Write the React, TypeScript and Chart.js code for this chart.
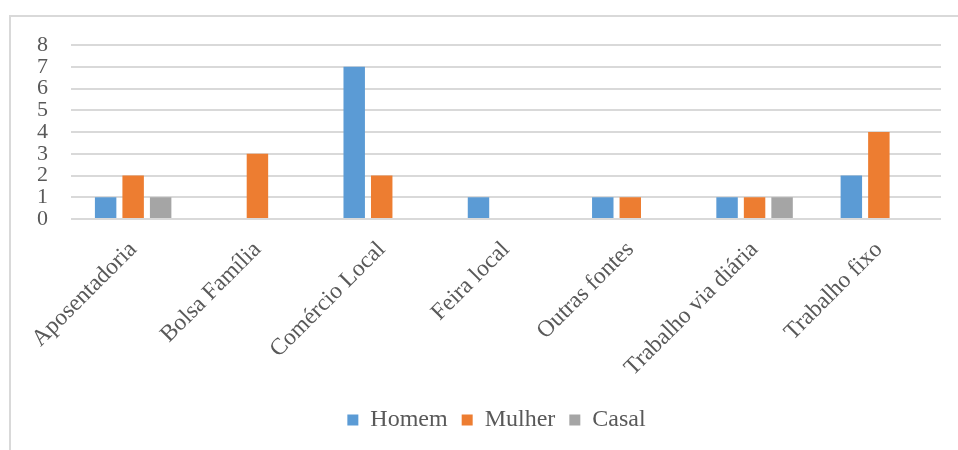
import React, { useEffect, useRef } from "react";
import { Chart, registerables } from "chart.js";

Chart.register(...registerables);

const categories = [
  "Aposentadoria",
  "Bolsa Família",
  "Comércio Local",
  "Feira local",
  "Outras fontes",
  "Trabalho via diária",
  "Trabalho fixo",
];
const homem = [1, 0, 7, 1, 1, 1, 2];
const mulher = [2, 3, 2, 0, 1, 1, 4];
const casal = [1, 0, 0, 0, 0, 1, 0];
const yTicks = [0, 1, 2, 3, 4, 5, 6, 7, 8];

const FONT = "'Liberation Serif', 'Times New Roman', serif";
const TEXT = "#595959";

const legendShift = {
  id: "legendShift",
  afterLayout(chart: any) {
    if (chart.legend) {
      chart.legend.left += 26;
      chart.legend.right += 26;
    }
  },
};

export default function App() {
  const ref = useRef<HTMLCanvasElement | null>(null);
  useEffect(() => {
    if (!ref.current) return;
    const chart = new Chart(ref.current, {
      type: "bar",
      data: {
        labels: categories,
        datasets: [
          { label: "Homem", data: homem, backgroundColor: "#5B9BD5" },
          { label: "Mulher", data: mulher, backgroundColor: "#ED7D31" },
          { label: "Casal", data: casal, backgroundColor: "#A5A5A5" },
        ],
      },
      plugins: [legendShift],
      options: {
        animation: false,
        responsive: false,
        maintainAspectRatio: false,
        datasets: {
          bar: { categoryPercentage: 0.664, barPercentage: 0.78, borderWidth: 0 },
        },
        layout: { padding: { left: 0, right: 17, top: 45, bottom: 8 } },
        plugins: {
          tooltip: { enabled: false },
          legend: {
            position: "bottom",
            labels: {
              boxWidth: 11,
              boxHeight: 11,
              padding: 14,
              color: TEXT,
              font: { family: FONT, size: 24 },
            },
          },
        },
        scales: {
          x: {
            grid: { display: false, drawTicks: false },
            border: { display: false },
            ticks: {
              minRotation: 45,
              maxRotation: 45,
              autoSkip: false,
              color: TEXT,
              padding: 17,
              font: { family: FONT, size: 23.5 },
            },
            afterFit: (s: any) => {
              s.height = 175;
            },
          },
          y: {
            min: 0,
            max: 8,
            afterBuildTicks: (s: any) => {
              s.ticks = yTicks.map((v) => ({ value: v }));
            },
            grid: { color: "#D9D9D9", lineWidth: 2, drawTicks: false },
            border: { display: false },
            ticks: {
              autoSkip: false,
              color: TEXT,
              padding: 23,
              font: { family: FONT, size: 22 },
            },
            afterFit: (s: any) => {
              s.width = 71;
            },
          },
        },
      },
    });
    return () => chart.destroy();
  }, []);
  return (
    <div
      style={{
        position: "absolute",
        left: 0,
        top: 0,
        width: 958,
        height: 450,
        overflow: "hidden",
        background: "#fff",
      }}
    >
      <div
        style={{
          position: "absolute",
          left: 9,
          top: 15,
          width: 1000,
          height: 500,
          border: "2px solid #D9D9D9",
        }}
      />
      <canvas
        ref={ref}
        width={958}
        height={450}
        style={{ position: "absolute", left: 0, top: 0, width: 958, height: 450 }}
      />
    </div>
  );
}
